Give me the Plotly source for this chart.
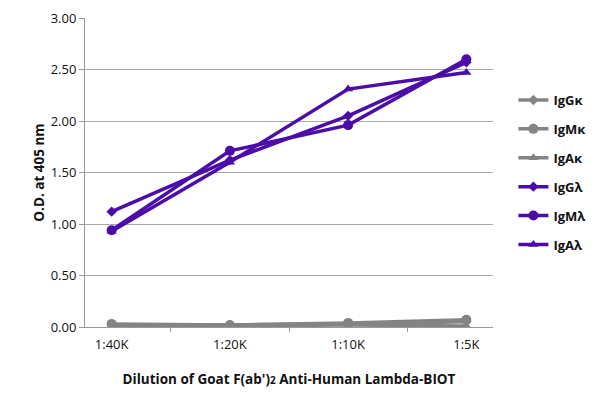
import plotly.graph_objects as go

dilutions = ['1:40K', '1:20K', '1:10K', '1:5K']

igg_k = [0.02, 0.02, 0.03, 0.05]
igm_k = [0.03, 0.02, 0.04, 0.07]
iga_k = [0.01, 0.01, 0.02, 0.01]
igg_l = [1.12, 1.62, 2.05, 2.57]
igm_l = [0.94, 1.71, 1.96, 2.60]
iga_l = [0.93, 1.60, 2.31, 2.47]

gray = '#848484'
purple = '#4b0ca8'

series = [
    ('IgGκ', igg_k, gray, 'diamond', 8),
    ('IgMκ', igm_k, gray, 'circle', 10),
    ('IgAκ', iga_k, gray, 'triangle-up', 9),
    ('IgGλ', igg_l, purple, 'diamond', 8),
    ('IgMλ', igm_l, purple, 'circle', 10),
    ('IgAλ', iga_l, purple, 'triangle-up', 9),
]

fig = go.Figure()
for name, vals, col, sym, sz in series:
    fig.add_trace(go.Scatter(
        x=dilutions, y=vals, name='<b>' + name + '</b>', legendgroup=name,
        mode='lines+markers',
        line=dict(color=col, width=3.5),
        marker=dict(symbol=sym, size=sz, color=col),
    ))

# page has an 8px body margin, so margins are shifted to compensate
fig.update_layout(
    width=600, height=400,
    margin=dict(l=77, r=115, t=10, b=81),
    plot_bgcolor='white', paper_bgcolor='white',
    font=dict(family='Open Sans', size=13, color='#111'),
    showlegend=True,
    legend=dict(x=1.05, y=0.5, xanchor='left', yanchor='middle',
                tracegroupgap=9, font=dict(size=13, color='#111'),
                itemwidth=30),
)
fig.update_xaxes(
    type='category', tickson='boundaries', ticks='outside', ticklen=4,
    tickcolor='#999', showline=True, linecolor='#999', linewidth=1,
    showgrid=False, automargin=False, ticklabelstandoff=5,
    title=dict(text="<b>Dilution of Goat F(ab')<span style='font-size:10px'>2</span> Anti-Human Lambda-BIOT</b>",
               font=dict(size=13.5), standoff=22),
)
fig.update_yaxes(
    range=[0, 3], dtick=0.5, tickformat='.2f', ticks='outside', ticklen=5,
    tickcolor='#999', showline=True, linecolor='#999', linewidth=1,
    showgrid=True, gridcolor='#aaa', gridwidth=1, zeroline=False,
    automargin=False,
    title=dict(text='<b>O.D. at 405 nm</b>', font=dict(size=13.5), standoff=2),
)

fig.write_html('out.html')
